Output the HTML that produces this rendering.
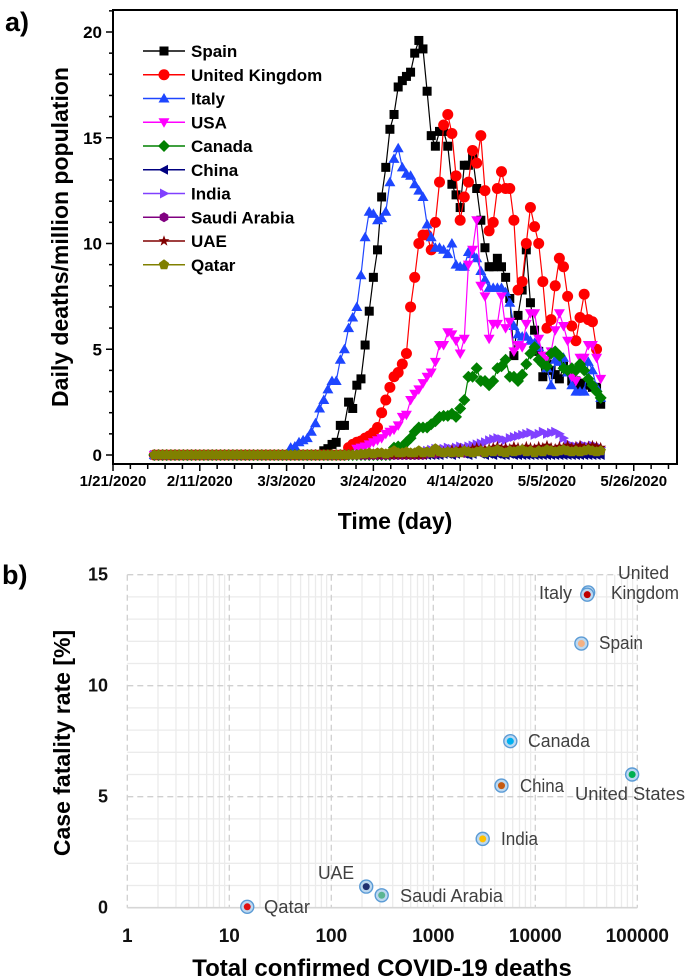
<!DOCTYPE html>
<html><head><meta charset="utf-8">
<style>
html,body{margin:0;padding:0;background:#fff;}
svg{display:block;font-family:"Liberation Sans",Arial,sans-serif;}
</style></head>
<body>
<svg id="fig" width="688" height="978" viewBox="0 0 688 978" xmlns="http://www.w3.org/2000/svg">
<g id="topChart"></g>
<g id="botChart"></g>
</svg>
<script>
// ---------- Chart a data ----------
const seriesNames = ["Spain","United Kingdom","Italy","USA","Canada","China","India","Saudi Arabia","UAE","Qatar"];
const seriesColors = ["#000000","#ff0000","#1e46ff","#ff00ff","#008000","#000080","#8040ff","#800080","#800000","#808000"];
const seriesMarkers = ["square","circle","up","down","diamond","left","right","hexagon","star","pentagon"];
const baselineStartDay = 10;
const spainStart = 51;
const spainValues = [0.2,0.3,0.5,0.6,1.4,1.4,2.5,2.2,3.3,3.6,5.2,6.8,8.4,9.7,12.2,13.6,15.4,16.1,17.4,17.7,17.9,18.1,19.0,19.6,19.2,17.2,15.1,14.6,15.3,15.3,14.6,12.8,12.3,11.7,13.7,13.7,14.1,12.6,11.1,9.8,8.9,8.9,9.3,8.9,8.4,7.4,4.7,6.6,7.8,9.7,7.2,5.9,4.9,3.7,4.3,4.0,3.8,3.6,4.2,4.0,3.5,3.5,3.3,3.4,3.3,3.2,3.2,2.4];
const ukStart = 57;
const ukValues = [0.35,0.5,0.6,0.66,0.8,0.9,1.05,1.3,2.0,2.6,3.2,3.7,3.9,4.3,4.8,7.0,8.4,10.0,10.4,10.4,9.7,11.0,12.9,15.6,16.1,15.2,13.2,11.1,12.2,12.9,14.4,13.8,15.1,12.5,10.6,11.0,12.6,13.4,12.6,12.6,11.1,7.8,8.2,10.0,11.7,10.8,10.0,8.2,6.0,6.4,8.0,9.3,8.9,7.5,6.1,5.4,6.5,7.6,6.4,6.3,5.0];
const italyStart = 43;
const italyValues = [0.35,0.4,0.6,0.7,0.8,1.1,1.5,2.2,2.6,3.1,3.5,3.5,4.5,5.0,6.0,6.5,7.0,8.5,10.3,11.5,11.4,11.1,11.2,11.5,12.9,14.0,14.5,13.6,13.3,13.2,12.8,12.5,12.2,10.9,10.3,9.8,9.8,9.7,9.5,10.0,9.0,8.9,8.9,9.6,9.5,9.3,8.7,8.3,7.9,7.9,7.9,7.9,7.7,7.2,6.1,5.7,5.6,5.6,5.4,5.3,5.1,4.6,4.1,3.3,4.5,4.4,4.6,3.9,3.3,3.0,3.0,3.0,4.4,4.0,3.2,2.7];
const usaStart = 59;
const usaValues = [0.3,0.35,0.4,0.5,0.6,0.7,0.8,1.0,1.1,1.2,1.4,1.8,1.9,2.6,2.9,3.1,3.4,3.7,3.9,4.4,5.2,5.2,5.8,5.7,5.4,4.8,5.5,9.0,9.7,11.1,8.0,7.5,5.5,6.2,6.2,7.5,6.0,6.3,4.9,5.2,5.1,6.2,6.7,6.7,5.5,4.7,4.5,4.9,5.9,6.7,6.1,5.4,3.7,3.5,4.6,4.6,5.2,5.2,4.6,3.6];
const canadaStart = 68;
const canadaValues = [0.35,0.4,0.4,0.6,0.8,1.1,1.3,1.3,1.3,1.45,1.6,1.8,1.85,1.85,1.95,1.8,2.2,2.6,3.7,3.7,4.1,3.5,3.5,3.3,3.5,4.1,4.2,4.5,3.7,3.7,3.5,3.8,4.3,4.8,5.1,4.5,4.3,4.2,4.8,4.9,4.7,4.1,4.0,4.1,4.0,4.3,4.0,3.6,3.3,3.0,2.7];
const chinaStart = 80;
const chinaValues = [0.05,0.05,0.0,0.05,0.1,0.05,0.0,0.05,0.3,0.05,0.0,0.05,0.0,0.05,0.0,0.0,0.05,0.0,0.0,0.0,0.0,0.0,0.0,0.0,0.0,0.0,0.0,0.0,0.0,0.0,0.0,0.0,0.0,0.0,0.0,0.0,0.0,0.0,0.0];
const indiaStart = 75;
const indiaValues = [0.15,0.2,0.25,0.3,0.3,0.3,0.35,0.3,0.35,0.4,0.35,0.4,0.45,0.5,0.55,0.6,0.7,0.75,0.8,0.75,0.7,0.8,0.85,0.9,0.95,1.0,1.05,0.95,1.0,1.1,1.0,1.05,1.1,1.0,0.8,0.55,0.45,0.4,0.4,0.45,0.4,0.45,0.4,0.35];
const saudiStart = 76;
const saudiValues = [0.05,0.1,0.05,0.1,0.1,0.15,0.1,0.1,0.15,0.1,0.15,0.15,0.2,0.15,0.2,0.2,0.25,0.2,0.2,0.25,0.2,0.25,0.2,0.25,0.2,0.2,0.25,0.2,0.2,0.25,0.2,0.2,0.2,0.25,0.2,0.2,0.25,0.2,0.2,0.25,0.2,0.2,0.2];
const uaeStart = 76;
const uaeValues = [0.1,0.15,0.1,0.2,0.15,0.2,0.25,0.2,0.3,0.25,0.2,0.3,0.35,0.3,0.25,0.3,0.35,0.4,0.3,0.35,0.3,0.4,0.35,0.3,0.4,0.35,0.3,0.4,0.35,0.45,0.35,0.3,0.4,0.35,0.45,0.35,0.4,0.45,0.35,0.4,0.45,0.4,0.35];
const qatarStart = 60;
const qatarValues = [0.05,0.05,0.1,0.05,0.1,0.1,0.05,0.1,0.2,0.1,0.1,0.15,0.1,0.1,0.2,0.1,0.15,0.1,0.3,0.15,0.1,0.15,0.1,0.15,0.1,0.2,0.15,0.1,0.15,0.2,0.1,0.2,0.15,0.25,0.15,0.1,0.2,0.15,0.2,0.25,0.15,0.2,0.1,0.2,0.15,0.25,0.2,0.15,0.2,0.25,0.2,0.15,0.2,0.15,0.2,0.25,0.2,0.15,0.2];
const xTickLabels = ["1/21/2020","2/11/2020","3/3/2020","3/24/2020","4/14/2020","5/5/2020","5/26/2020"];
const xTickDays = [0,21,42,63,84,105,126];
const yTickValues = [0,5,10,15,20];

// ---------- Chart b data ----------
const countries = ["United Kingdom","Italy","Spain","Canada","United States","China","India","UAE","Saudi Arabia","Qatar"];
const totalDeaths = [33000,32300,28300,5690,89000,4660,3050,220,312,15];
const fatalityRate = [14.2,14.1,11.9,7.5,6.0,5.5,3.1,0.95,0.56,0.04];
const innerColors = ["#ff0000","#c00000","#f4b183","#00b0f0","#00b050","#c55a11","#ffc000","#1f2f6f","#5bb592","#e01010"];
const xLogTicks = [1,10,100,1000,10000,100000];
const yRateTicks = [0,5,10,15];

const NS="http://www.w3.org/2000/svg";
function mk(parent,tag,attrs,text){const e=document.createElementNS(NS,tag);for(const k in attrs)e.setAttribute(k,attrs[k]);if(text!==undefined)e.textContent=text;parent.appendChild(e);return e;}

// ---------- Chart a ----------
const topG=document.getElementById('topChart');
const xT=d=>113+d*4.133;
const yT=v=>455-v*21.15;
const L=113,R=677,T=10,B=464;

let t=mk(topG,'text',{x:5,y:31,'font-size':27,'font-weight':'bold'},'a)');


let fr=mk(topG,'rect',{x:L,y:T,width:R-L,height:B-T,fill:'none',stroke:'#000','stroke-width':2});


for(let v=0;v<=21;v++){
  const major=v%5===0;
  mk(topG,'line',{x1:L-(major?7:4),x2:L,y1:yT(v),y2:yT(v),stroke:'#000','stroke-width':1.5});
}
yTickValues.forEach(v=>{
  const e=mk(topG,'text',{x:102,y:yT(v)+6,'font-size':17,'font-weight':'bold','text-anchor':'end'},String(v));
  
  
});
for(let k=0;k<=32;k++){
  const d=k*4.2;
  if(xT(d)>R)break;
  const major=k%5===0;
  mk(topG,'line',{x1:xT(d),x2:xT(d),y1:B,y2:B+(major?7:5),stroke:'#000','stroke-width':1.5});
}
xTickLabels.forEach((s,i)=>{
  const e=mk(topG,'text',{x:xT(xTickDays[i]),y:486,'font-size':15,'font-weight':'bold','text-anchor':'middle'},s);
  
  
});
t=mk(topG,'text',{x:395,y:529,'font-size':23,'font-weight':'bold','text-anchor':'middle'},'Time (day)');


t=mk(topG,'text',{x:0,y:0,'font-size':23,'font-weight':'bold','text-anchor':'middle',transform:'translate(68,237) rotate(-90)'},'Daily deaths/million population');



function marker(g,type,x,y,color){
  const s=4.5;let e;
  if(type==='square')e=mk(g,'rect',{x:x-s,y:y-s,width:2*s,height:2*s,fill:color});
  else if(type==='circle')e=mk(g,'circle',{cx:x,cy:y,r:5.5,fill:color});
  else{
    let pts;
    if(type==='up')pts=[[0,-5.5],[5.5,4],[-5.5,4]];
    else if(type==='down')pts=[[0,5.5],[5.5,-4],[-5.5,-4]];
    else if(type==='left')pts=[[-5.5,0],[4,-5],[4,5]];
    else if(type==='right')pts=[[5.5,0],[-4,-5],[-4,5]];
    else if(type==='diamond')pts=[[0,-6],[6,0],[0,6],[-6,0]];
    else if(type==='hexagon'){pts=[];for(let k=0;k<6;k++){const a=Math.PI/6+k*Math.PI/3;pts.push([5*Math.cos(a),5*Math.sin(a)]);}}
    else if(type==='pentagon'){pts=[];for(let k=0;k<5;k++){const a=-Math.PI/2+k*2*Math.PI/5;pts.push([5.5*Math.cos(a),5.5*Math.sin(a)]);}}
    else if(type==='star'){pts=[];for(let k=0;k<10;k++){const a=-Math.PI/2+k*Math.PI/5;const r=k%2?2.3:5.8;pts.push([r*Math.cos(a),r*Math.sin(a)]);}}
    e=mk(g,'polygon',{points:pts.map(p=>(x+p[0]).toFixed(1)+','+(y+p[1]).toFixed(1)).join(' '),fill:color});
  }
  return e;
}
const starts=[spainStart,ukStart,italyStart,usaStart,canadaStart,chinaStart,indiaStart,saudiStart,uaeStart,qatarStart];
const vals=[spainValues,ukValues,italyValues,usaValues,canadaValues,chinaValues,indiaValues,saudiValues,uaeValues,qatarValues];
seriesNames.forEach((name,i)=>{
  const g=mk(topG,'g',{});
  
  
  const pts=[];
  for(let d=baselineStartDay;d<starts[i];d++)pts.push([d,0]);
  vals[i].forEach((v,k)=>pts.push([starts[i]+k,v]));
  mk(g,'polyline',{points:pts.map(p=>xT(p[0]).toFixed(1)+','+yT(p[1]).toFixed(1)).join(' '),fill:'none',stroke:seriesColors[i],'stroke-width':1.2});
  pts.forEach(p=>{const m=marker(g,seriesMarkers[i],xT(p[0]),yT(p[1]),seriesColors[i]);
    
    });
});
const lg=mk(topG,'g',{});


seriesNames.forEach((name,i)=>{
  const y=51+i*23.75;
  const g=mk(lg,'g',{});
  
  
  mk(g,'line',{x1:143,x2:185,y1:y,y2:y,stroke:seriesColors[i],'stroke-width':1.5});
  marker(g,seriesMarkers[i],164,y,seriesColors[i]);
  mk(g,'text',{x:191,y:y+6,'font-size':17,'font-weight':'bold'},name);
});

// ---------- Chart b ----------
const botG=document.getElementById('botChart');
const xB=v=>127.3+Math.log10(v)*102;
const yB=v=>907.7-v*22.2;
t=mk(botG,'text',{x:2,y:584,'font-size':27,'font-weight':'bold'},'b)');


const grid=mk(botG,'g',{});


for(let v=0;v<=15;v++){ if(v%5)mk(grid,'line',{x1:xB(1),x2:xB(100000),y1:yB(v),y2:yB(v),stroke:'#ebebeb','stroke-width':1.3}); }
for(let dec=1;dec<100000;dec*=10){for(let m=2;m<=9;m++)mk(grid,'line',{x1:xB(dec*m),x2:xB(dec*m),y1:yB(15),y2:yB(0),stroke:'#ebebeb','stroke-width':1.3});}
yRateTicks.forEach(v=>{ if(v>0)mk(grid,'line',{x1:xB(1),x2:xB(100000),y1:yB(v),y2:yB(v),stroke:'#d0d0d0','stroke-width':1.3,'stroke-dasharray':'6,4'}); });
xLogTicks.forEach(v=>mk(grid,'line',{x1:xB(v),x2:xB(v),y1:yB(15),y2:yB(0),stroke:'#d0d0d0','stroke-width':1.3,'stroke-dasharray':'6,4'}));
mk(grid,'line',{x1:xB(1),x2:xB(100000),y1:yB(0),y2:yB(0),stroke:'#d6d6d6','stroke-width':1.6});
yRateTicks.forEach(v=>{
  const e=mk(botG,'text',{x:108,y:yB(v)+6,'font-size':18,'text-anchor':'end','font-weight':'bold',fill:'#111'},String(v));
  
  
});
xLogTicks.forEach(v=>{
  const e=mk(botG,'text',{x:xB(v),y:942,'font-size':19,'text-anchor':'middle','font-weight':'bold',fill:'#111'},String(v));
  
  
});
t=mk(botG,'text',{x:382,y:976,'font-size':24,'font-weight':'bold','text-anchor':'middle'},'Total confirmed COVID-19 deaths');


t=mk(botG,'text',{x:0,y:0,'font-size':23,'font-weight':'bold','text-anchor':'middle',transform:'translate(70,743) rotate(-90)'},'Case fatality rate [%]');


countries.forEach((c,i)=>{
  const g=mk(botG,'g',{});
  
  
  const x=xB(totalDeaths[i]),y=yB(fatalityRate[i]);
  mk(g,'circle',{cx:x,cy:y,r:6.5,fill:'#bcd8f0',stroke:'#5b9bd5','stroke-width':1.4});
  mk(g,'circle',{cx:x,cy:y,r:3.5,fill:innerColors[i]});
});
const labels=[["Italy",539,599,33],["United",618,579,51],["Kingdom",611,599,68],["Spain",599,649,44],["Canada",528,747,62],["China",520,792,44],["United States",575,800,110],["India",501,845,37],["UAE",318,879,36],["Saudi Arabia",400,902,103],["Qatar",264,913,46]];
labels.forEach(l=>{
  const e=mk(botG,'text',{x:l[1],y:l[2],'font-size':18,fill:'#404040',textLength:l[3],lengthAdjust:'spacingAndGlyphs'},l[0]);
  
  
});
</script>
</body></html>
